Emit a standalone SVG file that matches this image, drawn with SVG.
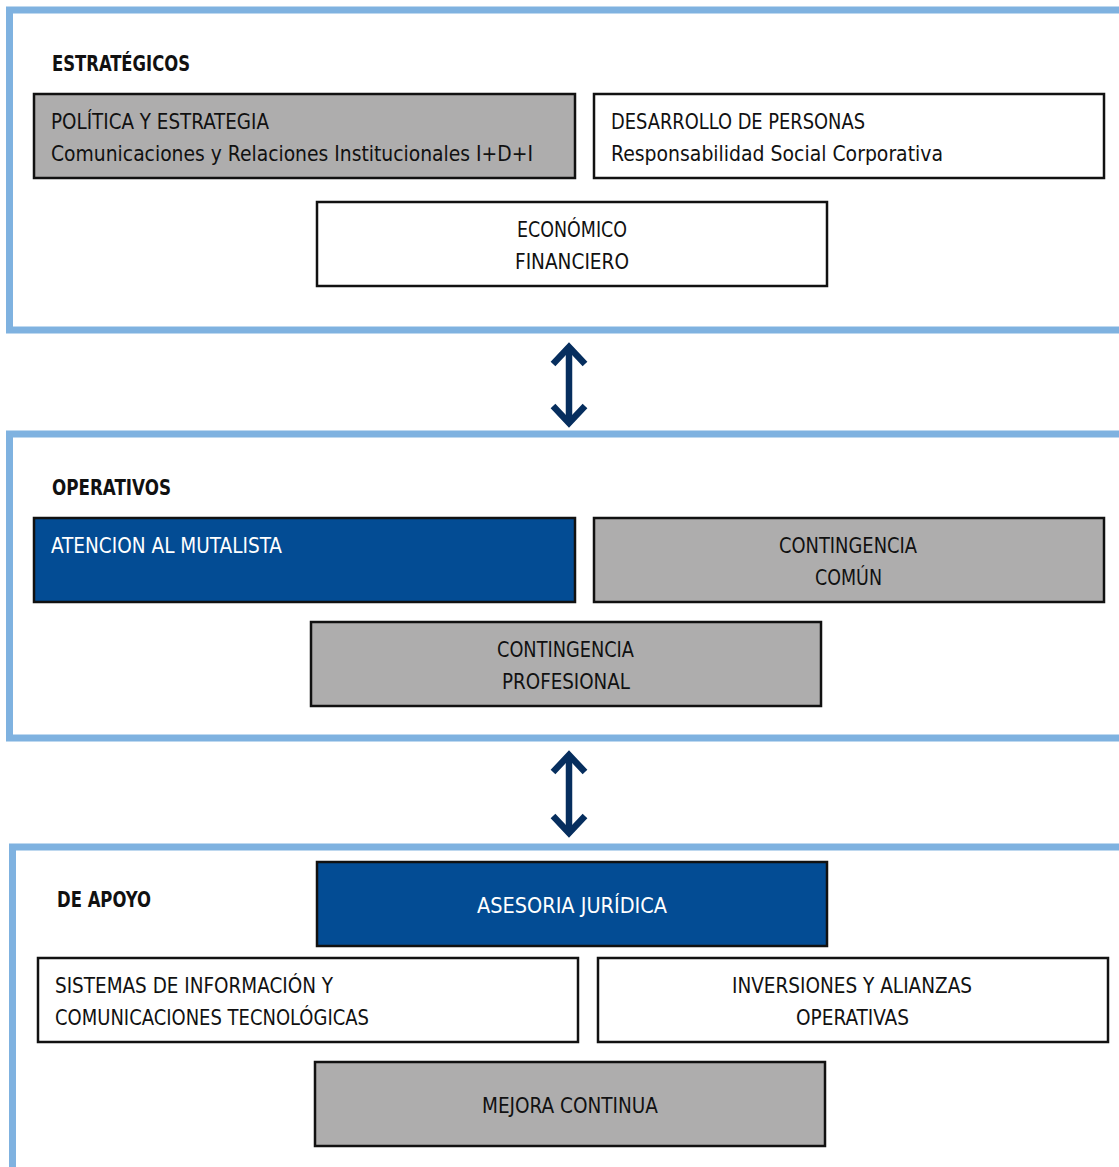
<svg xmlns="http://www.w3.org/2000/svg" width="1119" height="1167" viewBox="0 0 1119 1167">
<style>
.frame{fill:none;stroke:#7fb2e0;stroke-width:7}
.box{stroke:#111;stroke-width:2.5}
.gray{fill:#aeadad}
.white{fill:#fff}
.blue{fill:#034c94}
text{font-family:"DejaVu Sans Condensed","Liberation Sans Narrow","Liberation Sans",sans-serif;font-stretch:condensed;font-size:21px;fill:#111}
.h{font-weight:bold;font-size:21px}
.w{fill:#fff}
.arr{fill:none;stroke:#062e5e;stroke-width:6.5;stroke-linejoin:miter}
</style>
<rect width="1119" height="1167" fill="#fff"/>
<g id="frames">
<rect class="frame" x="9.5" y="10" width="1130" height="320"/>
<rect class="frame" x="9.5" y="434" width="1130" height="304"/>
<rect class="frame" x="12.5" y="847" width="1130" height="340"/>
</g>
<g id="estrategicos">
<text class="h" x="52" y="71" textLength="138" lengthAdjust="spacingAndGlyphs">ESTRATÉGICOS</text>
</g>
<g id="politica">
<rect class="box gray" x="34" y="94" width="541" height="84"/>
<text x="51" y="129" textLength="218" lengthAdjust="spacingAndGlyphs">POLÍTICA Y ESTRATEGIA</text>
<text x="51" y="161" textLength="482" lengthAdjust="spacingAndGlyphs">Comunicaciones y Relaciones Institucionales I+D+I</text>
</g>
<g id="desarrollo">
<rect class="box white" x="594" y="94" width="510" height="84"/>
<text x="611" y="129" textLength="254" lengthAdjust="spacingAndGlyphs">DESARROLLO DE PERSONAS</text>
<text x="611" y="161" textLength="332" lengthAdjust="spacingAndGlyphs">Responsabilidad Social Corporativa</text>
</g>
<g id="economico">
<rect class="box white" x="317" y="202" width="510" height="84"/>
<text x="517" y="237" textLength="110" lengthAdjust="spacingAndGlyphs">ECONÓMICO</text>
<text x="515" y="269" textLength="114" lengthAdjust="spacingAndGlyphs">FINANCIERO</text>
</g>
<g id="operativos">
<text class="h" x="52" y="495" textLength="119" lengthAdjust="spacingAndGlyphs">OPERATIVOS</text>
</g>
<g id="atencion">
<rect class="box blue" x="34" y="518" width="541" height="84"/>
<text class="w" x="51" y="553" textLength="231" lengthAdjust="spacingAndGlyphs">ATENCION AL MUTALISTA</text>
</g>
<g id="comun">
<rect class="box gray" x="594" y="518" width="510" height="84"/>
<text x="779" y="553" textLength="138" lengthAdjust="spacingAndGlyphs">CONTINGENCIA</text>
<text x="815" y="585" textLength="67" lengthAdjust="spacingAndGlyphs">COMÚN</text>
</g>
<g id="profesional">
<rect class="box gray" x="311" y="622" width="510" height="84"/>
<text x="497" y="657" textLength="137" lengthAdjust="spacingAndGlyphs">CONTINGENCIA</text>
<text x="502" y="689" textLength="128" lengthAdjust="spacingAndGlyphs">PROFESIONAL</text>
</g>
<g id="deapoyo">
<text class="h" x="57" y="907" textLength="94" lengthAdjust="spacingAndGlyphs">DE APOYO</text>
</g>
<g id="asesoria">
<rect class="box blue" x="317" y="862" width="510" height="84"/>
<text class="w" x="477" y="913" textLength="190" lengthAdjust="spacingAndGlyphs">ASESORIA JURÍDICA</text>
</g>
<g id="sistemas">
<rect class="box white" x="38" y="958" width="540" height="84"/>
<text x="55" y="993" textLength="278" lengthAdjust="spacingAndGlyphs">SISTEMAS DE INFORMACIÓN Y</text>
<text x="55" y="1025" textLength="314" lengthAdjust="spacingAndGlyphs">COMUNICACIONES TECNOLÓGICAS</text>
</g>
<g id="inversiones">
<rect class="box white" x="598" y="958" width="510" height="84"/>
<text x="732" y="993" textLength="240" lengthAdjust="spacingAndGlyphs">INVERSIONES Y ALIANZAS</text>
<text x="796" y="1025" textLength="113" lengthAdjust="spacingAndGlyphs">OPERATIVAS</text>
</g>
<g id="mejora">
<rect class="box gray" x="315" y="1062" width="510" height="84"/>
<text x="482" y="1113" textLength="176" lengthAdjust="spacingAndGlyphs">MEJORA CONTINUA</text>
</g>
<g id="connectors">
<line class="arr" x1="569" y1="350" x2="569" y2="420"/>
<polyline class="arr" points="553,364 569,347 585,364"/>
<polyline class="arr" points="553,406 569,423 585,406"/>
<line class="arr" x1="569" y1="758" x2="569" y2="830"/>
<polyline class="arr" points="553,772 569,755 585,772"/>
<polyline class="arr" points="553,816 569,833 585,816"/>
</g>
</svg>
